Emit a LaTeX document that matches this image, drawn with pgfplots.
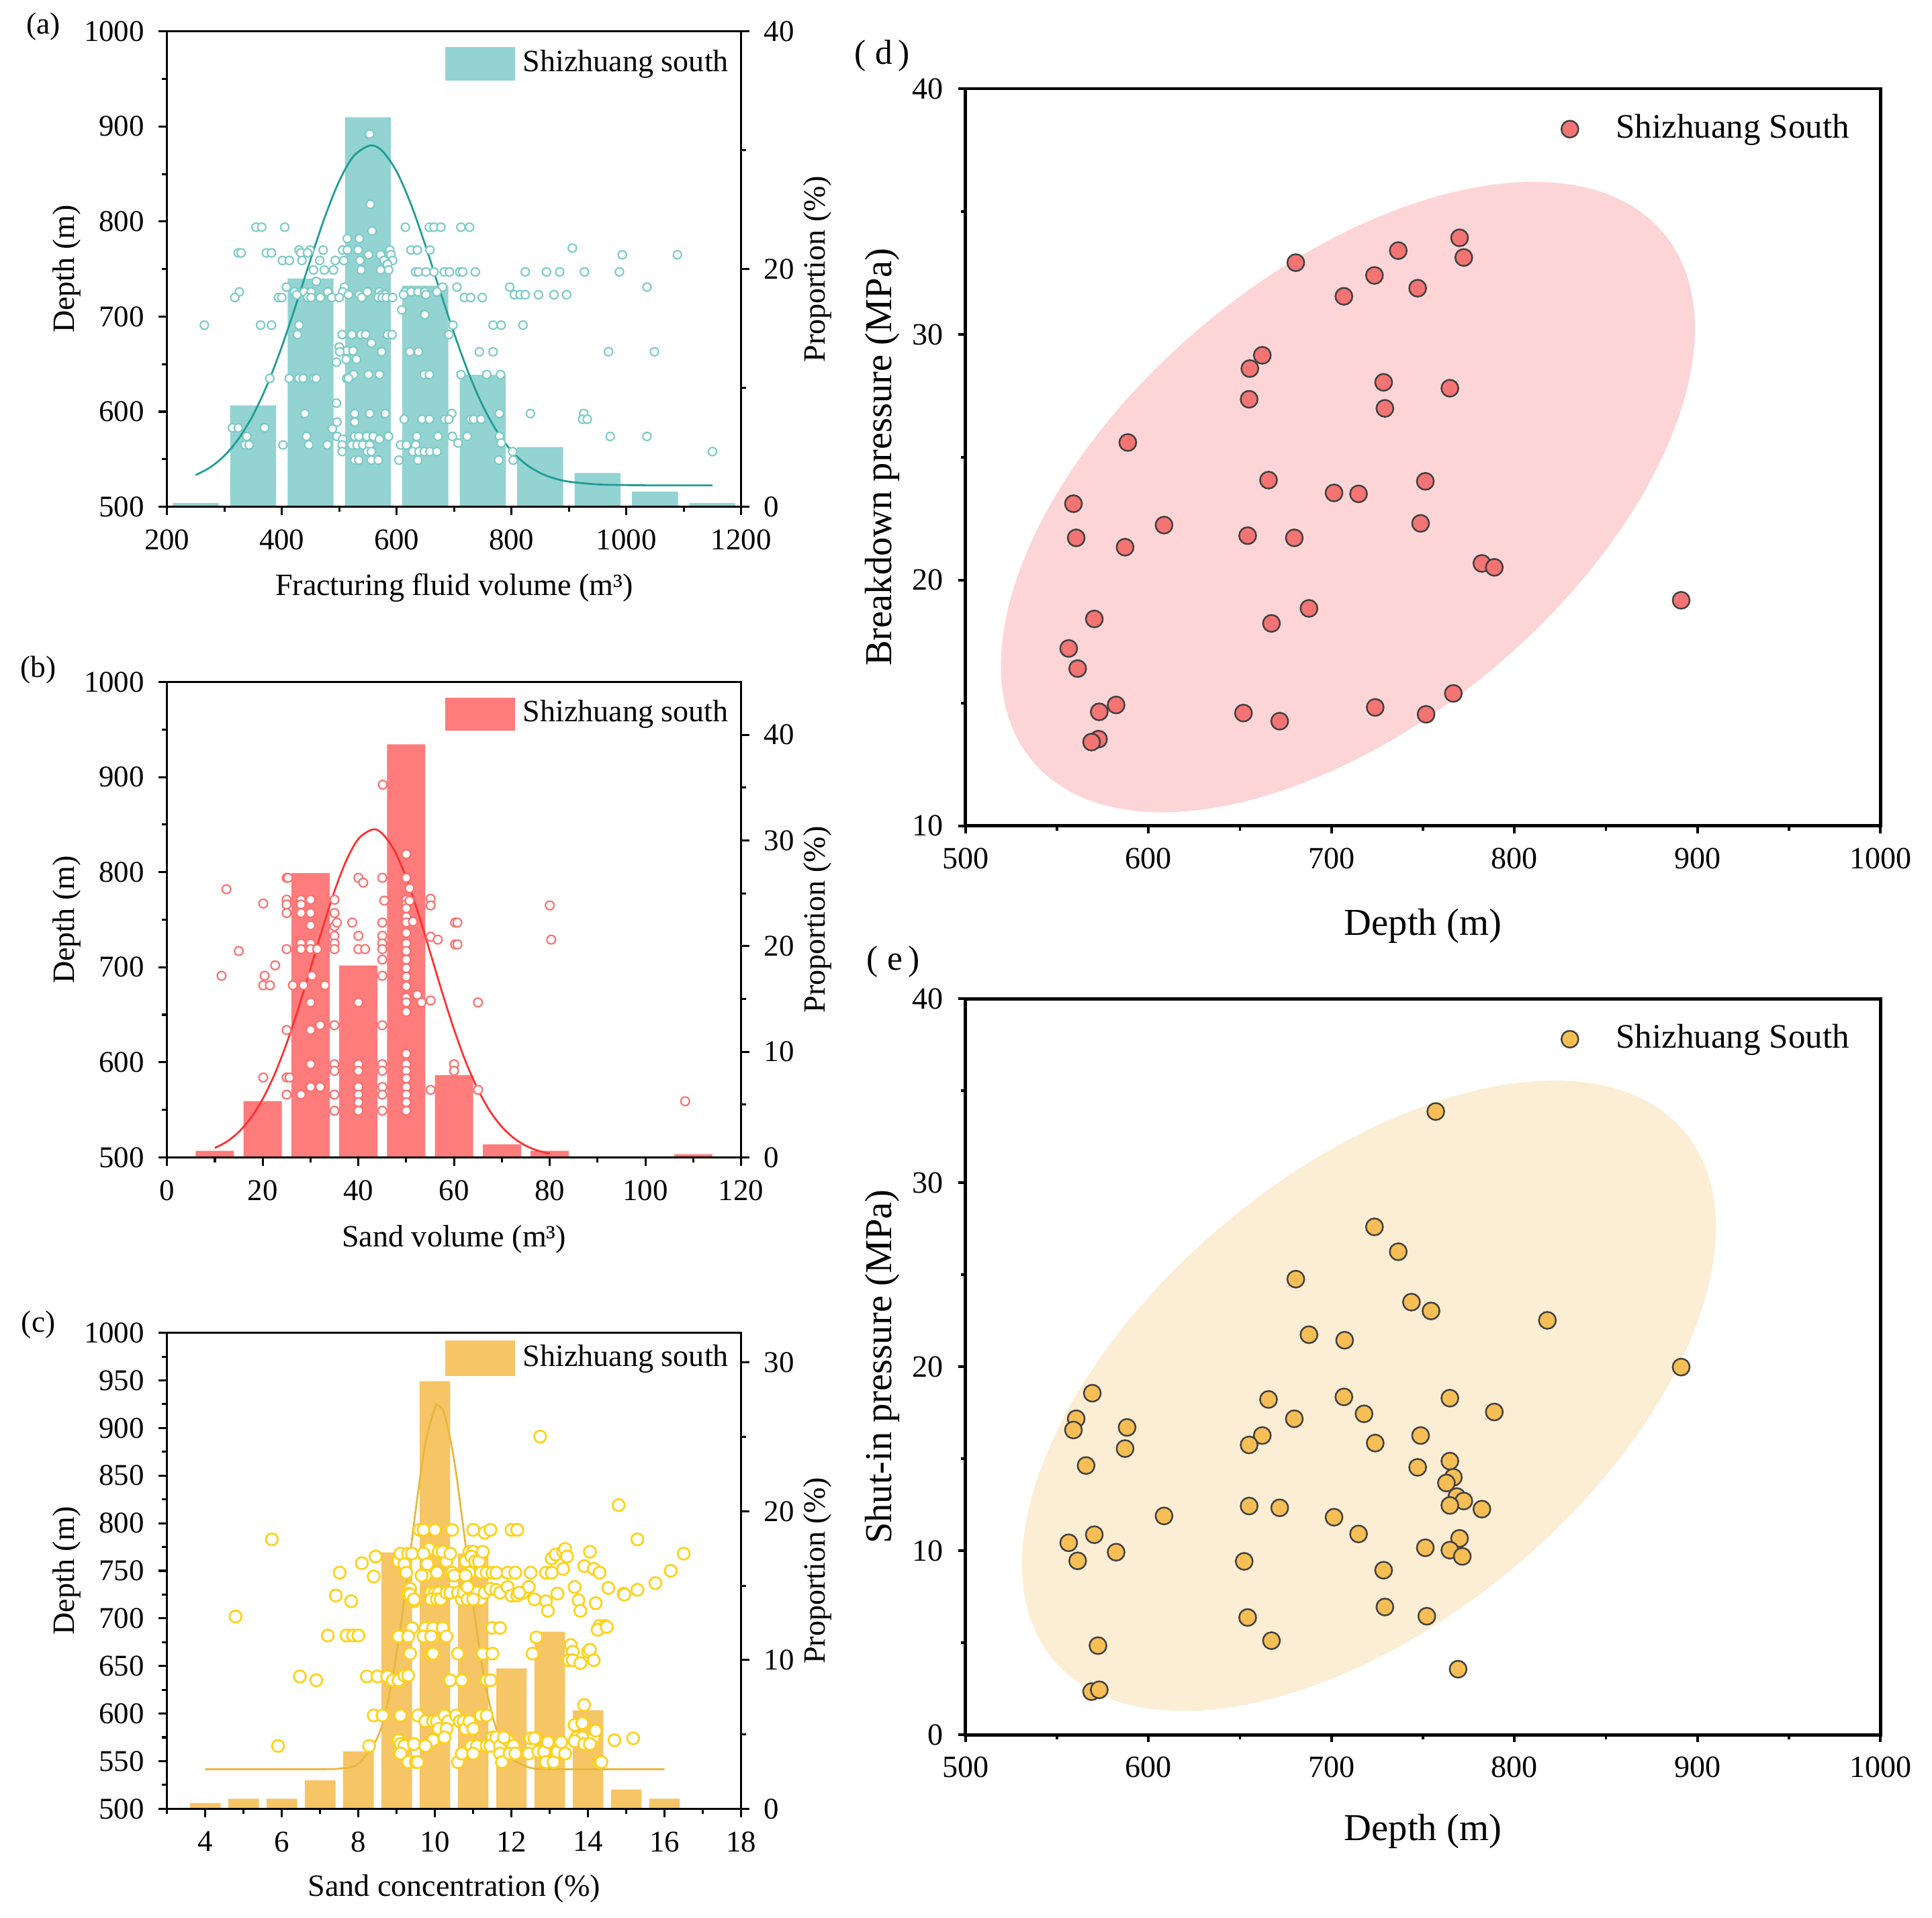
\documentclass[border=0pt]{standalone}
\usepackage{pgfplots}
\pgfplotsset{compat=1.18}
\usepackage{fontspec}
\setmainfont{Liberation Serif}

\definecolor{tealbar}{HTML}{93D3D2}
\definecolor{tealline}{HTML}{1F9E94}
\definecolor{tealmark}{HTML}{7DCBC8}
\definecolor{redbar}{HTML}{FF7C7C}
\definecolor{redline}{HTML}{FF3030}
\definecolor{redmark}{HTML}{FF6F6F}
\definecolor{goldbar}{HTML}{F6C566}
\definecolor{goldline}{HTML}{E8B83C}
\definecolor{goldmark}{HTML}{FFD21A}
\definecolor{ptD}{HTML}{F47474}
\definecolor{ellD}{HTML}{FDD5D7}
\definecolor{ptE}{HTML}{F6BE55}
\definecolor{ellE}{HTML}{FCEDD5}

\pgfplotsset{
  leftax/.style={scale only axis, width=139.08pt, height=115.17pt, anchor=south west,
    tick align=outside, major tick length=2pt, minor tick length=1.2pt,
    every tick/.append style={line width=0.5pt, black},
    axis line style={line width=0.5pt},
    tick label style={font=\fontsize{7.3}{8}\selectfont},
    label style={font=\fontsize{7.5}{9}\selectfont},
    /pgf/number format/assume math mode=true, /pgf/number format/1000 sep={},
    minor tick num=1},
  propax/.style={leftax, hide x axis, axis y line*=right, tick align=outside,
    ylabel={Proportion (\%)},
    ylabel style={at={(axis description cs:1.133,0.5)}, anchor=center},
    legend style={draw=none, fill=none, inner sep=0pt, at={(1,1)}, anchor=east,
      font=\fontsize{7.5}{9}\selectfont}},
  depthax/.style={leftax, ymin=500, ymax=1000, xtick pos=left, ytick pos=left,
    ylabel={Depth (m)},
    ylabel style={at={(axis description cs:-0.1747,0.5)}, anchor=center}},
  rightax/.style={scale only axis, width=221.67pt, anchor=south west,
    xmin=500, xmax=1000, xtick={500,600,...,1000},
    tick align=outside, major tick length=1.8pt, minor tick length=1.1pt,
    every tick/.append style={line width=0.6pt, black},
    axis line style={line width=0.8pt},
    xtick pos=left, ytick pos=left, minor tick num=1,
    tick label style={font=\fontsize{7.5}{8}\selectfont},
    label style={font=\fontsize{9.2}{10}\selectfont},
    /pgf/number format/assume math mode=true, /pgf/number format/1000 sep={},
    xlabel={Depth (m)},
    ylabel style={at={(axis description cs:-0.0907,0.5)}, anchor=center},
    legend style={draw=none, fill=none, inner sep=0pt, at={(1,1)}, anchor=east,
      xshift=-5.35pt, yshift=-9.8pt, font=\fontsize{8.3}{9}\selectfont}},
  dotlegend/.style={legend image code/.code={\draw[##1] plot coordinates {(0pt,0pt)}; \path[draw=none, fill=none] (-2.2pt,0pt) -- (9.2pt,0pt);}},
}

\begin{document}
\begin{tikzpicture}
\path[use as bounding box] (0,0) rectangle (468.07pt,464.5pt);

% ================= (a) =================
\begin{axis}[propax, at={(40.47pt,341.73pt)}, xmin=200, xmax=1200, ymin=0, ymax=40,
  ytick={0,20,40}, legend style={xshift=-0.85pt, yshift=-7.86pt}]
\addplot[ybar, bar width=80, fill=tealbar, draw=none,
  legend image code/.code={\fill[tealbar] (0pt,-4.05pt) rectangle (16.8pt,4.05pt);}]
  coordinates {(250,0.31) (350,8.53) (450,19.21) (550,32.77) (650,18.6) (750,11.1)
  (850,5.03) (950,2.84) (1050,1.27) (1150,0.31)};
\addlegendentry{Shizhuang south}
\addplot[smooth, tealline, line width=0.45pt, forget plot] coordinates {
  (250,2.67) (275,3.31) (300,4.30) (325,5.74) (350,7.73) (375,10.32) (400,13.47)
  (425,17.05) (450,20.8) (475,24.39) (500,27.41) (525,29.5) (554,30.4) (575,29.93)
  (600,28.2) (625,25.44) (650,21.99) (675,18.24) (700,14.6) (725,11.27) (750,8.49)
  (775,6.31) (800,4.70) (825,3.58) (850,2.84) (875,2.38) (900,2.11) (950,1.88)
  (1000,1.82) (1050,1.80) (1150,1.80)};
\end{axis}
\begin{axis}[depthax, at={(40.47pt,341.73pt)}, xmin=200, xmax=1200,
  xtick={200,400,...,1200}, ytick={500,600,...,1000},
  xlabel={Fracturing fluid volume (m³)},
  xlabel style={at={(axis description cs:0.5,-0.171)}, anchor=center}]
\addplot[only marks, mark=*, mark size=1.0pt, mark options={fill=white, draw=tealmark, line width=0.35pt}]
 table[row sep=\\] {
553 892\\554 818\\557 790\\355 794\\365 794\\405 794\\615 794\\657 794\\665 794\\677 794\\712 794\\727 794\\
514 782\\535 782\\906 772\\430 770\\449 770\\472 770\\506 770\\514 770\\533 770\\588 770\\625 770\\636 770\\658 770\\
324 767\\329 767\\373 767\\382 767\\433 767\\445 767\\551 765\\572 765\\590 765\\993 765\\1089 765\\
401 759\\413 759\\435 759\\466 759\\493 759\\508 759\\536 759\\578 759\\593 759\\584 755\\
455 749\\474 749\\490 749\\538 749\\572 749\\586 749\\633 747\\638 747\\651 747\\665 747\\683 747\\692 747\\
710 747\\715 747\\737 747\\824 747\\861 747\\884 747\\927 747\\988 747\\460 737\\
408 731\\509 731\\680 731\\705 731\\797 731\\1036 731\\
326 726\\422 726\\439 726\\451 726\\480 726\\506 726\\549 726\\570 726\\615 726\\625 726\\637 726\\649 726\\670 726\\
426 723\\516 723\\535 723\\574 723\\580 723\\612 723\\651 723\\805 723\\815 723\\824 723\\847 723\\874 723\\896 723\\
318 720\\394 720\\400 720\\445 720\\451 720\\467 720\\487 720\\500 720\\539 720\\568 720\\575 720\\582 720\\593 720\\
718 720\\729 720\\749 720\\609 707\\649 702\\
265 691\\363 691\\382 691\\430 691\\698 691\\768 691\\782 691\\820 691\\
427 681\\505 681\\522 681\\538 681\\546 681\\584 681\\592 681\\691 681\\556 672\\500 668\\513 664\\524 664\\
501 663\\574 663\\623 663\\638 663\\744 663\\768 663\\969 663\\1049 663\\512 655\\530 655\\495 652\\
525 639\\551 639\\570 639\\648 639\\657 639\\712 639\\757 639\\781 639\\
379 635\\413 635\\430 635\\437 635\\456 635\\460 635\\513 635\\516 635\\495 609\\
440 598\\527 598\\553 598\\580 598\\696 598\\779 598\\833 598\\926 598\\
613 592\\644 592\\657 592\\684 592\\691 592\\729 592\\734 592\\747 592\\924 592\\932 592\\496 589\\527 589\\
314 583\\324 583\\370 583\\488 582\\
339 574\\443 574\\496 574\\527 574\\534 574\\548 574\\559 574\\586 574\\635 574\\672 574\\697 574\\723 574\\779 574\\972 574\\1036 574\\
506 571\\570 571\\707 567\\782 567\\
336 565\\343 565\\402 565\\447 565\\479 565\\505 565\\522 565\\531 565\\541 565\\553 565\\607 565\\617 565\\633 565\\
505 558\\549 558\\556 558\\628 558\\639 558\\648 558\\658 558\\670 558\\802 558\\1150 558\\
527 549\\534 549\\556 549\\568 549\\604 549\\637 549\\778 549\\803 549\\
};
\end{axis}

% ================= (b) =================
\begin{axis}[propax, at={(40.47pt,184.11pt)}, xmin=0, xmax=120, ymin=0, ymax=45,
  ytick={0,10,20,30,40}, legend style={xshift=-0.85pt, yshift=-7.8pt}]
\addplot[ybar, bar width=8, fill=redbar, draw=none,
  legend image code/.code={\fill[redbar] (0pt,-4.05pt) rectangle (16.8pt,4.05pt);}]
  coordinates {(10,0.62) (20,5.32) (30,26.9) (40,18.17) (50,39.1) (60,7.79) (70,1.23)
  (80,0.62) (110,0.31)};
\addlegendentry{Shizhuang south}
\addplot[smooth, redline, line width=0.45pt, forget plot] coordinates {
  (10,0.89) (12.5,1.49) (15,2.41) (17.5,3.72) (20,5.53) (22.5,7.88) (25,10.79) (27.5,14.18)
  (30,17.89) (32.5,21.67) (35,25.2) (37.5,28.13) (40,30.15) (43,31.05) (45,30.65)
  (47.5,29.07) (50,26.46) (52.5,23.13) (55,19.41) (57.5,15.64) (60,12.1) (62.5,8.98)
  (65,6.41) (67.5,4.38) (70,2.88) (72.5,1.82) (75,1.10) (77.5,0.64) (80,0.36)};
\end{axis}
\begin{axis}[depthax, at={(40.47pt,184.11pt)}, xmin=0, xmax=120,
  xtick={0,20,...,120}, ytick={500,600,...,1000},
  xlabel={Sand volume (m³)},
  xlabel style={at={(axis description cs:0.5,-0.173)}, anchor=center}]
\addplot[only marks, mark=*, mark size=1.05pt, mark options={fill=white, draw=redmark, line width=0.35pt}]
 table[row sep=\\] {
12.4 782\\11.4 691\\15 717\\20.1 767\\20.4 691\\20.1 681\\21.5 681\\22.6 702\\20.1 584\\
25 794\\25.3 794\\25 771\\25 766\\25 757\\25 719\\25 634\\25 584\\25.6 584\\25 566\\26.3 681\\
28 771\\28 766\\28 757\\28 725\\28 719\\28.5 681\\28 566\\
30 771\\30 757\\30 744\\30 725\\30 719\\30.3 691\\30 663\\30 634\\30 598\\30 574\\31.4 719\\32 639\\32 574\\33 681\\
35 771\\35 757\\35 743\\35 733\\35 725\\35 719\\35.5 747\\35 639\\35 598\\35 591\\35 566\\35 549\\
38.7 747\\40 794\\41 789\\40 733\\40 719\\41.4 719\\40 663\\40 598\\40 591\\40 574\\40 566\\40 558\\40 549\\
45 794\\45.4 770\\45 747\\45 733\\45 725\\45 719\\45 708\\45 691\\45 639\\45 598\\45 591\\45 574\\45 566\\45 549\\45.1 892\\
50 819\\50 794\\50.7 783\\50 771\\50 766\\50 762\\50 753\\50 747\\50 736\\50 725\\50 717\\50 708\\50 699\\50 690\\
50 680\\50 668\\50 663\\50 653\\52.3 671\\53.2 663\\51.4 748\\50.7 770\\
50 609\\50 598\\50 591\\50 583\\50 574\\50 566\\50 558\\50 549\\
55.1 772\\55.1 765\\55.1 732\\56.6 729\\55.1 665\\55.1 571\\
60.2 747\\60.7 747\\60.2 724\\60.7 724\\60 598\\60 591\\65 663\\65 571\\80 765\\80.3 729\\108.3 559\\
};
\end{axis}

% ================= (c) =================
\begin{axis}[propax, at={(40.47pt,26.31pt)}, height=115.3pt, xmin=3, xmax=18, ymin=0, ymax=32,
  ytick={0,10,20,30}, legend style={xshift=-0.85pt, yshift=-6.2pt}]
\addplot[ybar, bar width=0.8, fill=goldbar, draw=none,
  legend image code/.code={\fill[goldbar] (0pt,-4.3pt) rectangle (16.8pt,4.3pt);}]
  coordinates {(4,0.39) (5,0.68) (6,0.68) (7,1.9) (8,3.86) (9,17.23) (10,28.75) (11,17.15)
  (12,9.43) (13,11.91) (14,6.62) (15,1.30) (16,0.68)};
\addlegendentry{Shizhuang south}
\addplot[smooth, goldline, line width=0.45pt, forget plot] coordinates {
  (4,2.66) (6,2.66) (7,2.66) (7.5,2.70) (8,3.02) (8.5,4.80) (8.75,6.99) (9,10.44)
  (9.25,15.05) (9.5,20.15) (9.75,24.55) (10,26.94) (10.09,27.13) (10.25,26.53)
  (10.5,23.47) (10.75,18.74) (11,13.67) (11.25,9.34) (11.5,6.26) (11.75,4.38)
  (12,3.38) (12.5,2.75) (13,2.67) (14,2.66) (16,2.66)};
\end{axis}
\begin{axis}[depthax, at={(40.47pt,26.31pt)}, height=115.3pt, xmin=3, xmax=18,
  xtick={4,6,...,18}, minor xtick={3,5,...,17}, ytick={500,550,...,1000},
  xlabel={Sand concentration (\%)},
  xlabel style={at={(axis description cs:0.5,-0.168)}, anchor=center}]
\addplot[only marks, mark=*, mark size=1.45pt, mark options={fill=white, draw=goldmark, line width=0.45pt}]
 table[row sep=\\] {
4.79 702\\5.74 783\\5.9 566\\6.47 639\\6.9 635\\7.51 748\\7.41 724\\7.81 718\\7.2 682\\7.69 682\\7.86 682\\8.0 682\\
8.09 758\\8.4 744\\8.45 765\\8.22 639\\8.5 639\\8.75 639\\8.4 598\\8.63 598\\8.28 566\\
9.05 760\\9.1 768\\9.3 768\\9.4 768\\9.2 757\\9.25 748\\9.35 731\\9.3 726\\9.45 718\\9.4 690\\9.05 681\\9.3 681\\
9.35 663\\8.9 635\\9.05 635\\9.2 640\\9.3 640\\9.1 598\\9.05 572\\9.1 568\\9.2 566\\9.1 558\\9.3 549\\9.5 549\\
9.45 568\\9.35 725\\9.45 720\\
9.6 793\\9.7 793\\10.0 793\\9.85 773\\9.7 768\\10.1 770\\9.8 757\\9.75 745\\10.05 748\\9.65 745\\9.9 727\\10.0 727\\
10.1 727\\9.9 720\\10.05 720\\10.15 720\\9.75 690\\9.95 690\\10.2 690\\9.7 681\\9.9 681\\10.3 681\\9.9 663\\9.95 663\\
10.4 635\\9.55 598\\9.75 592\\9.95 592\\10.05 592\\10.1 584\\10.25 598\\10.35 592\\10.3 584\\9.95 572\\9.75 566\\
10.25 575\\9.55 549\\10.3 760\\10.2 770\\10.45 748\\10.3 727\\10.4 727\\10.5 745\\10.4 768\\10.45 793\\
10.6 727\\10.7 720\\10.75 727\\10.85 720\\10.9 748\\10.8 760\\10.9 770\\11.0 770\\10.95 765\\11.05 760\\11.15 760\\
11.25 770\\11.0 793\\11.3 790\\11.45 793\\11.2 748\\11.35 748\\11.5 748\\11.0 727\\11.1 727\\11.2 720\\11.3 727\\
11.0 720\\10.6 663\\11.25 663\\11.5 663\\10.7 635\\11.35 635\\11.45 635\\10.55 598\\10.65 592\\10.75 592\\10.8 584\\
10.9 592\\11.0 584\\11.2 598\\11.35 598\\10.6 549\\10.7 558\\10.95 566\\11.1 566\\11.0 558\\11.35 566\\11.5 575\\
11.45 566\\10.8 745\\10.85 733\\11.45 731\\
11.6 730\\11.7 727\\11.9 733\\12.0 724\\12.15 724\\12.3 727\\12.45 733\\11.6 748\\11.9 748\\12.1 748\\12.5 748\\
12.0 793\\12.15 793\\11.5 690\\11.7 690\\11.6 575\\11.7 566\\11.9 572\\12.05 566\\11.7 558\\11.75 549\\11.95 558\\
12.1 558\\12.45 558\\12.5 574\\11.8 575\\12.2 727\\
12.6 720\\12.55 663\\12.65 680\\12.75 891\\12.9 718\\12.95 708\\12.9 748\\13.05 748\\13.05 763\\13.15 767\\13.35 770\\
13.4 773\\13.45 765\\13.35 752\\13.2 726\\13.65 733\\12.65 574\\12.7 560\\12.85 560\\12.9 549\\12.95 570\\13.1 549\\
13.2 560\\13.3 570\\13.4 558\\12.6 574\\
13.55 672\\13.6 665\\13.5 656\\13.6 656\\13.8 653\\13.9 755\\14.05 770\\14.15 752\\14.3 748\\13.75 719\\13.8 708\\
14.2 716\\14.3 692\\14.45 692\\14.25 688\\14.0 665\\14.05 667\\14.15 656\\13.9 609\\13.65 588\\13.85 590\\13.7 575\\
13.85 575\\14.15 575\\13.65 571\\13.9 568\\14.05 568\\14.2 582\\14.3 549\\14.35 549\\
14.8 819\\15.29 783\\15.18 574\\14.69 572\\14.53 732\\14.93 726\\15.29 730\\15.76 737\\16.16 750\\16.5 768\\14.49 691\\14.95 725\\
};
\end{axis}

% ================= (d) =================
\begin{axis}[rightax, dotlegend, at={(233.91pt,264.42pt)}, height=178.59pt, ymin=10, ymax=40,
  ytick={10,20,30,40}, ylabel={Breakdown pressure (MPa)},
  xlabel style={at={(axis description cs:0.5,-0.136)}, anchor=center}]
\fill[ellD] (axis cs:709,23.38) circle [x radius=99.66pt, y radius=54.42pt, rotate=39.9];
\addplot[only marks, mark=*, mark size=2.05pt, mark options={fill=ptD, draw=black!75, line width=0.4pt}]
 coordinates {(680.5,32.92) (770.0,33.93) (772.3,33.13) (736.5,33.41) (723.5,32.40) (747.1,31.88)
 (706.8,31.55) (662.2,29.15) (655.4,28.61) (728.5,28.05) (764.7,27.81) (655.0,27.36) (729.2,26.99)
 (588.7,25.6) (665.6,24.07) (751.3,24.02) (701.4,23.55) (714.8,23.51) (559.0,23.11) (608.5,22.24)
 (748.7,22.31) (560.5,21.72) (654.2,21.81) (679.7,21.72) (587.2,21.34) (782.2,20.68) (789.0,20.52)
 (891.1,19.18) (570.4,18.42) (687.7,18.85) (667.2,18.24) (556.4,17.22) (561.3,16.40) (766.6,15.39)
 (582.3,14.92) (573.1,14.64) (651.9,14.59) (723.9,14.82) (751.7,14.54) (671.7,14.26) (572.7,13.53)
 (568.9,13.41)};
\addlegendentry{Shizhuang South}
\end{axis}

% ================= (e) =================
\begin{axis}[rightax, dotlegend, at={(233.91pt,44.25pt)}, height=178.29pt, ymin=0, ymax=40,
  ytick={0,10,20,30,40}, ylabel={Shut-in pressure (MPa)},
  xlabel style={at={(axis description cs:0.5,-0.131)}, anchor=center}]
\fill[ellE] (axis cs:720.5,18.42) circle [x radius=99.66pt, y radius=54.42pt, rotate=39.9];
\addplot[only marks, mark=*, mark size=2.05pt, mark options={fill=ptE, draw=black!75, line width=0.4pt}]
 coordinates {(757.0,33.87) (723.5,27.60) (736.5,26.25) (680.5,24.76) (743.7,23.51) (754.4,23.03)
 (818.0,22.52) (687.7,21.74) (707.2,21.44) (891.1,19.98) (569.3,18.56) (665.6,18.22) (706.8,18.36)
 (764.7,18.29) (717.8,17.44) (789.0,17.54) (560.5,17.17) (679.7,17.17) (559.0,16.56) (588.3,16.70)
 (662.2,16.26) (748.7,16.26) (655.0,15.75) (723.9,15.85) (587.2,15.55) (764.7,14.87) (565.9,14.63)
 (747.1,14.53) (766.6,13.99) (762.8,13.68) (768.5,12.94) (772.3,12.70) (764.7,12.46) (655.0,12.43)
 (671.7,12.33) (782.2,12.26) (608.5,11.89) (701.4,11.82) (714.8,10.91) (570.4,10.87) (770.0,10.67)
 (556.4,10.43) (751.3,10.16) (764.7,10.03) (582.3,9.92) (771.5,9.69) (561.3,9.45) (652.3,9.42)
 (728.5,8.94) (729.2,6.94) (654.2,6.37) (752.1,6.44) (667.2,5.11) (572.4,4.84) (769.2,3.56)
 (568.9,2.34) (573.1,2.44)};
\addlegendentry{Shizhuang South}
\end{axis}

% panel labels
\node[font=\fontsize{7.4}{8}\selectfont] at (10.5pt,458.1pt) {(a)};
\node[font=\fontsize{7.4}{8}\selectfont] at (9.3pt,302.25pt) {(b)};
\node[font=\fontsize{7.4}{8}\selectfont] at (9.3pt,143.5pt) {(c)};
\node[font=\fontsize{8.4}{9}\selectfont, inner sep=0pt] at (213.7pt,450.9pt) {(\kern2.2pt d\kern1.3pt)};
\node[font=\fontsize{8.4}{9}\selectfont, inner sep=0pt] at (216.4pt,231.45pt) {(\kern2.2pt e\kern1.3pt)};
\end{tikzpicture}
\end{document}
